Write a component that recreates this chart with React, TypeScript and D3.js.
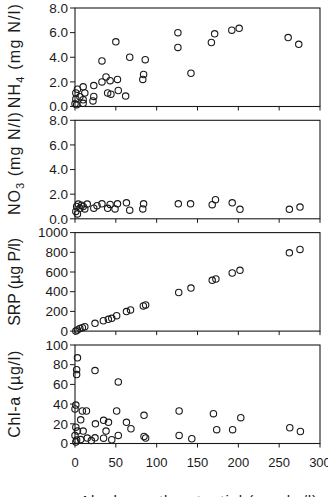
import React from "react";
import * as d3 from "d3";

const xTicks = [0, 50, 100, 150, 200, 250, 300];

const nh4X = [2, 1, 10, 6, 1, 12, 3, 10, 0, 10, 22, 23, 23, 33, 38, 33, 43, 52, 50, 40, 44, 53, 62, 67, 84, 83, 86, 126, 126, 142, 167, 171, 192, 201, 261, 274];
const nh4Y = [0.15, 0.6, 0.55, 0.8, 1.1, 1.1, 1.4, 1.6, 0.22, 0.26, 0.45, 0.82, 1.7, 2.0, 2.4, 3.7, 2.1, 2.2, 5.25, 1.1, 1.0, 1.3, 0.85, 4.0, 2.6, 2.2, 3.8, 6.0, 4.8, 2.7, 5.2, 5.9, 6.2, 6.35, 5.6, 5.05];

const no3X = [1, 3, 4, 6, 10, 12, 15, 23, 27, 33, 40, 43, 49, 52, 63, 67, 83, 84, 126.5, 141.5, 168, 172, 192.5, 202, 262.5, 275.5, 2, 8];
const no3Y = [0.6, 0.4, 1.2, 0.85, 1.0, 0.8, 1.2, 0.86, 1.07, 1.22, 0.85, 1.17, 0.8, 1.22, 1.3, 0.7, 0.8, 1.22, 1.22, 1.22, 1.15, 1.55, 1.3, 0.77, 0.77, 0.95, 1.0, 1.1];

const srpX = [1, 3, 6, 9, 12, 24.5, 34.7, 40.8, 45, 51, 63, 68, 83.7, 86.5, 127, 142, 168, 172.5, 192.5, 202, 262.5, 275.5];
const srpY = [0, 12, 27, 35, 44, 79, 105, 120, 130, 157, 198, 215, 256, 266, 392, 437, 515, 529, 590, 617, 795, 829];

const chlX = [3, 2, 2, 24.5, 53, 1, 0, 9, 14, 51, 7, 25, 35, 41, 63, 68.5, 84.5, 127.5, 169.5, 203, 173.5, 193, 263, 276, 127.5, 143, 84.5, 86.5, 53, 38, 24.5, 35, 45, 1, 3, 10, 0, 2, 7, 15, 1, 20];
const chlY = [87, 75, 70, 74, 62.5, 39, 35, 33, 33, 33, 24, 20, 23.5, 21.5, 21.5, 15, 28.6, 33, 30.3, 26.2, 14, 14, 16, 12.2, 8.2, 4.8, 7.1, 5.6, 8.2, 12.6, 5.8, 5.4, 3.8, 16.6, 12.6, 12.6, 8.2, 3.5, 4, 5.5, 1.5, 3];

const nh4Ticks = ["0.0", "2.0", "4.0", "6.0", "8.0"];
const no3Ticks = ["0.0", "2.0", "4.0", "6.0", "8.0"];
const srpTicks = ["0", "200", "400", "600", "800", "1000"];
const chlTicks = ["0", "20", "40", "60", "80", "100"];

const xLabel = "Algal growth potential (mg dw/l)";

type Panel = {
  xs: number[];
  ys: number[];
  max: number;
  ticks: string[];
  title: React.ReactNode;
  titleLen: number;
  titleShift: number;
};

const FONT = "Liberation Sans, Arial, Helvetica, sans-serif";
const INK = "#1a1a1a";

export default function App() {
  const left = 75;
  const right = 320;
  const panelH = 98.5;
  const tops = [8, 120.3, 232.6, 345];
  const x = d3.scaleLinear().domain([0, 300]).range([left, right]);

  const panels: Panel[] = [
    {
      xs: nh4X, ys: nh4Y, max: 8, ticks: nh4Ticks, titleLen: 104, titleShift: -1,
      title: (<>NH<tspan fontSize={11} dy={4}>4</tspan><tspan dy={-4}> (mg N/l)</tspan></>),
    },
    {
      xs: no3X, ys: no3Y, max: 8, ticks: no3Ticks, titleLen: 103, titleShift: -6,
      title: (<>NO<tspan fontSize={11} dy={4}>3</tspan><tspan dy={-4}> (mg N/l)</tspan></>),
    },
    { xs: srpX, ys: srpY, max: 1000, ticks: srpTicks, titleLen: 88, titleShift: 0, title: "SRP (µg P/l)" },
    { xs: chlX, ys: chlY, max: 100, ticks: chlTicks, titleLen: 87, titleShift: 0, title: "Chl-a (µg/l)" },
  ];

  return (
    <svg
      width={328}
      height={497}
      style={{ position: "absolute", left: 0, top: 0, background: "#fff" }}
      fontFamily={FONT}
    >
      {panels.map((p, i) => {
        const top = tops[i];
        const bottom = top + panelH;
        const y = d3.scaleLinear().domain([0, p.max]).range([bottom, top]);
        const tickVals = d3.range(0, p.max + p.max / 1000, p.max / (p.ticks.length - 1));
        const cy = (top + bottom) / 2 + p.titleShift;
        return (
          <g key={i}>
            <rect x={left} y={top} width={right - left} height={panelH} fill="none" stroke={INK} strokeWidth={1.1} />
            {tickVals.map((v, k) => (
              <g key={k}>
                <line x1={left - 5} x2={left} y1={y(v)} y2={y(v)} stroke={INK} strokeWidth={1} />
                <text x={68} y={y(v) + 4.7} textAnchor="end" fontSize={13.5} fill={INK}>
                  {p.ticks[k]}
                </text>
              </g>
            ))}
            {xTicks.map((v) => (
              <line key={v} x1={x(v)} x2={x(v)} y1={bottom} y2={bottom + 4} stroke={INK} strokeWidth={1} />
            ))}
            {p.xs.map((xv, k) => (
              <circle key={k} cx={x(xv)} cy={y(p.ys[k])} r={3.2} fill="none" stroke={INK} strokeWidth={1.1} />
            ))}
            <text
              transform={`translate(19.5,${cy}) rotate(-90)`}
              textAnchor="middle"
              fontSize={16}
              fill={INK}
              textLength={p.titleLen}
              lengthAdjust="spacing"
            >
              {p.title}
            </text>
          </g>
        );
      })}
      {xTicks.map((v) => (
        <text key={v} x={x(v)} y={467} textAnchor="middle" fontSize={13} fill={INK}>
          {v}
        </text>
      ))}
      <text x={(left + right) / 2 + 1} y={505.5} textAnchor="middle" fontSize={15} fill={INK} textLength={237} lengthAdjust="spacing">
        {xLabel}
      </text>
    </svg>
  );
}
